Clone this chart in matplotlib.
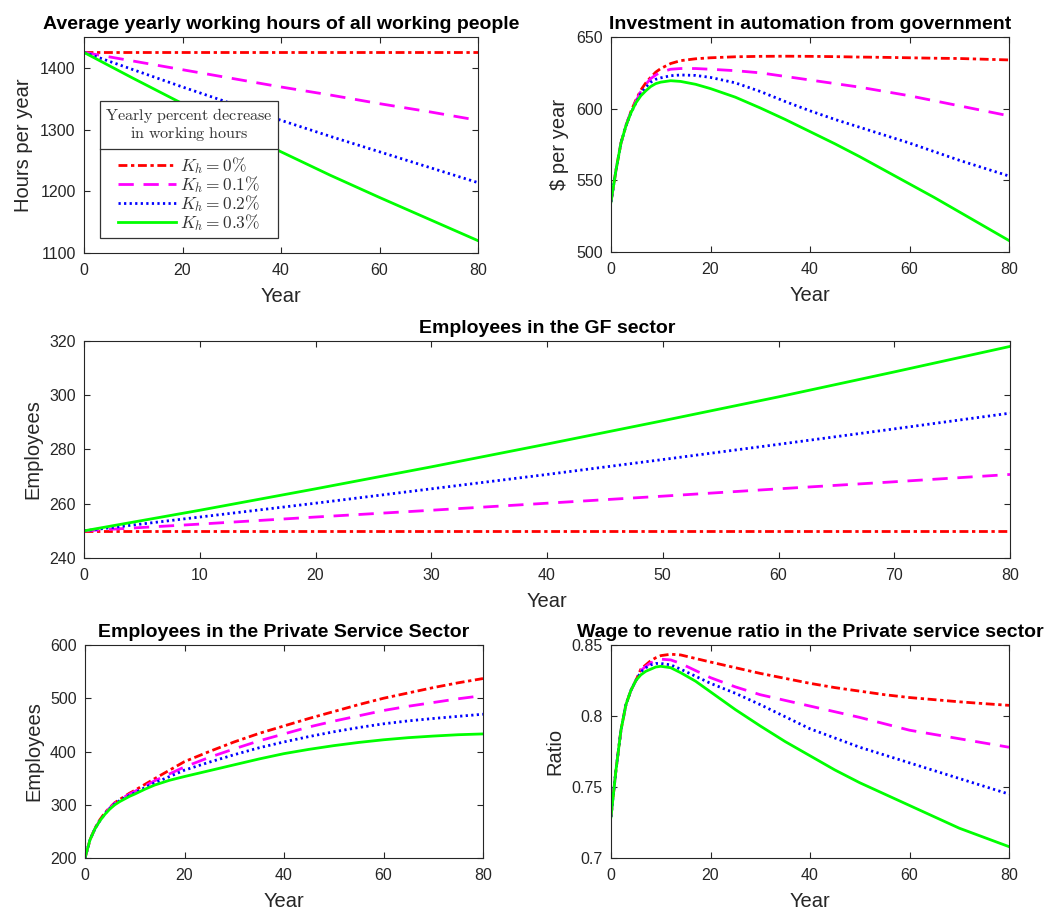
import matplotlib
matplotlib.use("Agg")
import matplotlib.pyplot as plt
from matplotlib.lines import Line2D

plt.rcParams["font.family"] = ["Liberation Sans", "DejaVu Sans"]
plt.rcParams["mathtext.fontset"] = "cm"

# ---- data ----
LABELS = [r"$K_h = 0\%$", r"$K_h = 0.1\%$", r"$K_h = 0.2\%$", r"$K_h = 0.3\%$"]

# average yearly working hours
hours_year = [0, 10, 20, 30, 40, 50, 60, 70, 80]
hours_k0 = [1425, 1425, 1425, 1425, 1425, 1425, 1425, 1425, 1425]
hours_k01 = [1425, 1411, 1397, 1383, 1369, 1356, 1342, 1329, 1315]
hours_k02 = [1425, 1397, 1369, 1342, 1315, 1289, 1264, 1239, 1214]
hours_k03 = [1425, 1383, 1342, 1302, 1264, 1226, 1190, 1155, 1120]

# employees in the GF sector
gf_year = [0, 10, 20, 30, 40, 50, 60, 70, 80]
gf_k0 = [250, 250, 250, 250, 250, 250, 250, 250, 250]
gf_k01 = [250, 252.5, 255.1, 257.6, 260.2, 262.8, 265.5, 268.1, 270.8]
gf_k02 = [250, 255.1, 260.2, 265.5, 270.8, 276.3, 281.9, 287.6, 293.4]
gf_k03 = [250, 257.6, 265.5, 273.6, 282.0, 290.6, 299.4, 308.6, 318.0]

# sample years for the three curved panels
years = [0, 1, 2, 3, 4, 5, 6, 7, 8, 9, 10, 12, 14, 17, 20, 25, 30, 35, 40, 45, 50, 55, 60, 65, 70, 75, 80]

# investment in automation from government
inv_k0 = [535, 557, 576, 588, 598, 606, 613, 618, 622, 625.5, 628, 631.5, 633.5, 634.8, 635.5, 636.2,
          636.5, 636.6, 636.5, 636.3, 636, 635.8, 635.5, 635.2, 635, 634.5, 634]
inv_k01 = [535, 557, 576, 588, 598, 605, 612, 617, 621, 623.5, 625.5, 627.5, 628, 628, 627.5, 626.5,
           625, 622.5, 620, 617.5, 615, 612, 609, 605.5, 602, 598.5, 595]
inv_k02 = [535, 557, 576, 588, 597, 604, 610.5, 615, 618.5, 620.5, 621.5, 623, 623.5, 623.2, 621.8, 618,
           612, 605, 598.5, 592.5, 587, 581.5, 576, 570, 564, 558.5, 553]
inv_k03 = [535, 557, 576, 588, 597, 604, 609, 612.5, 615.5, 617.5, 618.5, 619.5, 619, 617, 614, 608,
           600.5, 592.5, 584, 575.5, 566.5, 557, 547.5, 538, 528, 518, 508]

# employees in the private service sector
ps_k0 = [200, 234, 256, 272, 285, 295, 304, 310, 316, 322, 327, 338, 349, 365, 381, 400,
         418, 434, 448, 462, 475, 488, 500, 510, 520, 529, 537]
ps_k01 = [200, 234, 255, 271, 284, 294, 303, 309, 315, 320, 325, 335, 345, 358, 371, 389,
          405, 420, 433, 446, 457, 467, 477, 485, 492, 499, 505]
ps_k02 = [200, 234, 255, 270, 283, 293, 302, 308, 313, 318, 322, 332, 341, 353, 365, 380,
          394, 407, 418, 428, 437, 445, 452, 457.5, 462, 466, 470]
ps_k03 = [200, 234, 255, 270, 282, 292, 300, 306, 311, 316, 320, 329, 337, 346, 353, 364,
          375, 386, 396, 404, 411, 417, 422, 426, 429, 431.5, 433]

# wage to revenue ratio in the private service sector
wr_k0 = [0.729, 0.762, 0.790, 0.808, 0.818, 0.825, 0.833, 0.836, 0.839, 0.841, 0.8425, 0.8435, 0.843,
         0.8405, 0.838, 0.834, 0.830, 0.8265, 0.823, 0.820, 0.8175, 0.815, 0.813, 0.8115, 0.810, 0.8087, 0.8075]
wr_k01 = [0.729, 0.762, 0.790, 0.808, 0.818, 0.825, 0.832, 0.835, 0.8375, 0.839, 0.840, 0.8395, 0.837,
          0.832, 0.827, 0.8205, 0.815, 0.811, 0.807, 0.803, 0.799, 0.7945, 0.790, 0.787, 0.784, 0.781, 0.778]
wr_k02 = [0.729, 0.762, 0.790, 0.808, 0.818, 0.825, 0.831, 0.834, 0.836, 0.837, 0.837, 0.836, 0.833,
          0.828, 0.823, 0.816, 0.808, 0.7995, 0.791, 0.7845, 0.778, 0.7725, 0.767, 0.7615, 0.756, 0.7505, 0.745]
wr_k03 = [0.729, 0.762, 0.790, 0.808, 0.818, 0.825, 0.829, 0.8315, 0.833, 0.8345, 0.835, 0.834, 0.8305,
          0.8245, 0.817, 0.8045, 0.793, 0.782, 0.772, 0.762, 0.753, 0.745, 0.737, 0.729, 0.721, 0.7145, 0.708]

STYLES = [
    dict(color=(1, 0, 0), dashes=(3.2, 1.3, 1.2, 1.3)),
    dict(color=(1, 0, 1), dashes=(5.5, 3.5)),
    dict(color=(0, 0, 1), dashes=(0.8, 1.2)),
    dict(color=(0, 1, 0)),
]
TEXT_GRAY = "#262626"


def draw_series(ax, x, series):
    handles = []
    for values, style, label in zip(series, STYLES, LABELS):
        (line,) = ax.plot(x, values, linewidth=2, label=label, **style)
        handles.append(line)
    return handles


def style_axes(ax, title, ylabel, xlim, ylim, xticks, yticks, yticklabels=None):
    ax.set_title(title, fontsize=14, fontweight="bold", pad=6)
    ax.set_xlabel("Year", fontsize=14.5, color=TEXT_GRAY, labelpad=7)
    ax.set_ylabel(ylabel, fontsize=14.5, color=TEXT_GRAY, labelpad=5)
    ax.set_xlim(*xlim)
    ax.set_ylim(*ylim)
    ax.set_xticks(xticks)
    ax.set_yticks(yticks)
    if yticklabels is not None:
        ax.set_yticklabels(yticklabels)
    ax.tick_params(direction="in", top=True, right=True, labelsize=11.5,
                   colors=TEXT_GRAY, length=4, width=0.8)
    ax.tick_params(axis="x", pad=7)
    ax.tick_params(axis="y", pad=6)
    for spine in ax.spines.values():
        spine.set_color(TEXT_GRAY)
        spine.set_linewidth(0.8)


def main():
    fig = plt.figure(figsize=(10.58, 9.15), dpi=100)
    W, H = 1058.0, 915.0

    def box(left, right, top, bottom):
        return [left / W, 1 - bottom / H, (right - left) / W, (bottom - top) / H]

    ax_hours = fig.add_axes(box(84, 478, 37, 253))
    ax_inv = fig.add_axes(box(611, 1009, 37, 252))
    ax_gf = fig.add_axes(box(84, 1010, 341, 558))
    ax_ps = fig.add_axes(box(85, 483, 645, 858))
    ax_wr = fig.add_axes(box(611, 1009, 645, 858))

    handles = draw_series(ax_hours, hours_year, [hours_k0, hours_k01, hours_k02, hours_k03])
    style_axes(ax_hours, "Average yearly working hours of all working people", "Hours per year",
               (0, 80), (1100, 1450), [0, 20, 40, 60, 80], [1100, 1200, 1300, 1400])

    draw_series(ax_inv, years, [inv_k0, inv_k01, inv_k02, inv_k03])
    style_axes(ax_inv, "Investment in automation from government", r"\$ per year",
               (0, 80), (500, 650), [0, 20, 40, 60, 80], [500, 550, 600, 650])

    draw_series(ax_gf, gf_year, [gf_k0, gf_k01, gf_k02, gf_k03])
    style_axes(ax_gf, "Employees in the GF sector", "Employees",
               (0, 80), (240, 320), list(range(0, 81, 10)), [240, 260, 280, 300, 320])

    draw_series(ax_ps, years, [ps_k0, ps_k01, ps_k02, ps_k03])
    style_axes(ax_ps, "Employees in the Private Service Sector", "Employees",
               (0, 80), (200, 600), [0, 20, 40, 60, 80], [200, 300, 400, 500, 600])

    draw_series(ax_wr, years, [wr_k0, wr_k01, wr_k02, wr_k03])
    style_axes(ax_wr, "Wage to revenue ratio in the Private service sector", "Ratio",
               (0, 80), (0.7, 0.85), [0, 20, 40, 60, 80], [0.7, 0.75, 0.8, 0.85],
               ["0.7", "0.75", "0.8", "0.85"])

    legend_title = (r"$\mathrm{Yearly\ percent\ decrease}$" + "\n"
                    + r"$\mathrm{in\ working\ hours}$")
    leg = ax_hours.legend(handles=handles, loc="lower left", bbox_to_anchor=(0.041, 0.069),
                          title=legend_title, fontsize=12.5, title_fontsize=11.6,
                          handlelength=3.3, handletextpad=0.25, labelspacing=-0.12,
                          borderpad=0.3, borderaxespad=0, fancybox=False, framealpha=1,
                          edgecolor="#333333", alignment="center")
    leg.get_frame().set_linewidth(0.9)
    leg.get_title().set_color("#333333")
    leg.get_title().set_multialignment("center")
    leg.get_title().set_linespacing(0.95)
    for text in leg.get_texts():
        text.set_color("#333333")
    # more room between the title block and the entries
    leg._legend_box.sep = 9

    # separator line under the legend title, as in the original
    fig.canvas.draw()
    renderer = fig.canvas.get_renderer()
    frame = leg.get_frame().get_window_extent(renderer)
    title_box = leg.get_title().get_window_extent(renderer)
    entries_box = leg._legend_handle_box.get_window_extent(renderer)
    y_line = 0.5 * (title_box.y0 + entries_box.y1)
    fig.add_artist(Line2D([frame.x0 / W, frame.x1 / W], [y_line / H, y_line / H],
                          color="#333333", linewidth=0.9, transform=fig.transFigure))

    fig.savefig("out.png", dpi=100)


if __name__ == "__main__":
    main()
